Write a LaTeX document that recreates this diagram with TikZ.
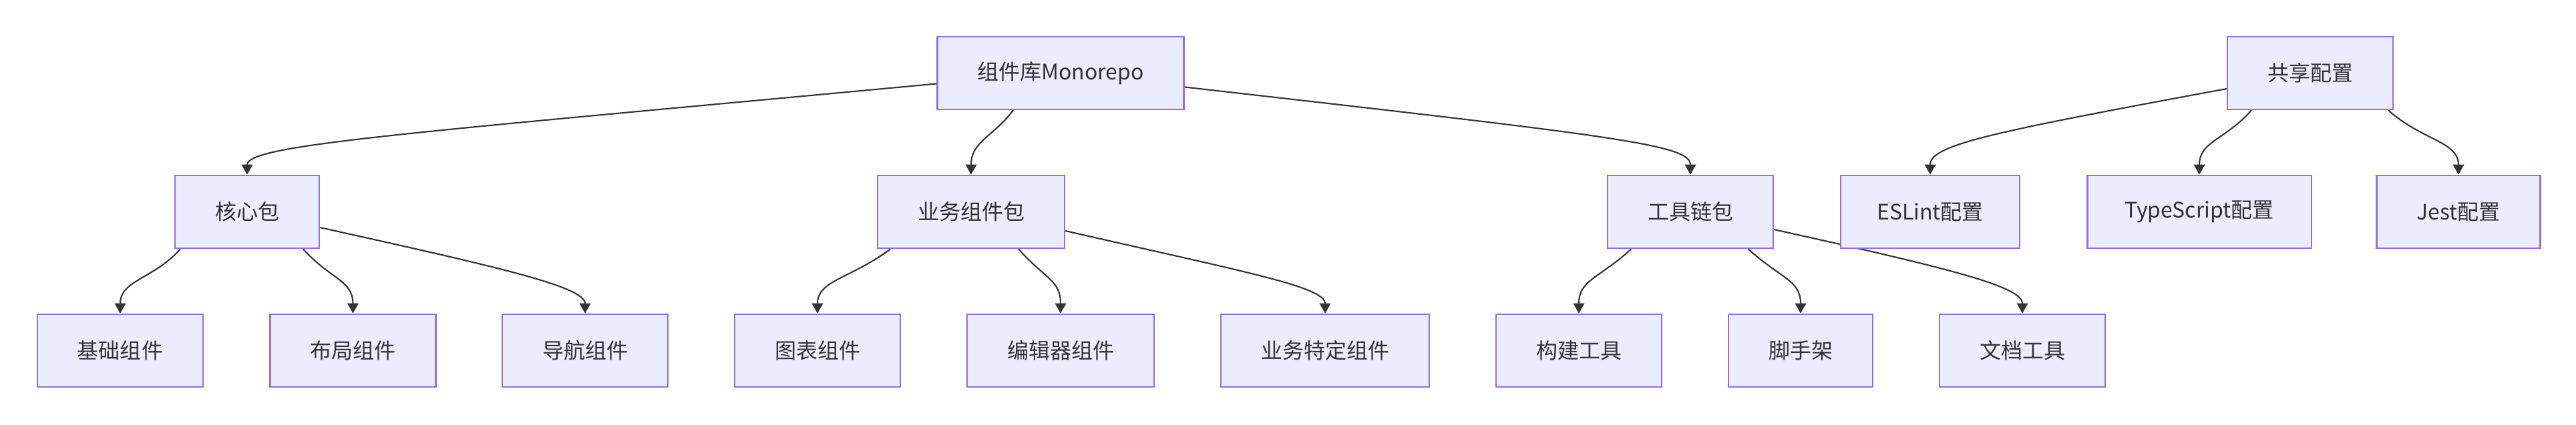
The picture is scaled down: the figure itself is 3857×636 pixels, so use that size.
\documentclass[tikz,border=0pt]{standalone}
\usepackage{fontspec}
\setmainfont{Noto Sans CJK SC}
\usetikzlibrary{calc,arrows.meta,backgrounds}
\definecolor{boxfill}{HTML}{ECECFF}
\definecolor{boxline}{HTML}{9370DB}
\definecolor{linkcol}{HTML}{333333}

\tikzset{
  pkg/.style={draw=boxline, fill=boxfill, line width=0.7pt, minimum height=1.09cm,
    inner xsep=0.6cm, text=linkcol, font=\fontsize{9.1pt}{11pt}\selectfont},
  link/.style={draw=linkcol, line width=0.6pt, -{Triangle[length=4.3pt,width=4.7pt]}}
}

\begin{document}
\begin{tikzpicture}[x=0.01cm, y=0.01cm]
  \useasboundingbox (0,0) rectangle (3857,636);

  % top row
  \node[pkg] (mono) at (1588,526.5) {组件库Monorepo};
  \node[pkg] (shared) at (3459,526.5) {共享配置};

  % packages
  \node[pkg] (core) at (370,318.5) {核心包};
  \node[pkg] (biz) at (1454,318.5) {业务组件包};
  \node[pkg] (tool) at (2531,318.5) {工具链包};
  \node[pkg, inner xsep=0.54cm] (eslint) at (2890,318.5) {ESLint配置};
  \node[pkg, inner xsep=0.56cm] (tsconf) at (3293,318.5) {TypeScript配置};
  \node[pkg] (jest) at (3681,318.5) {Jest配置};

  % leaves
  \node[pkg] (base) at (180,110.5) {基础组件};
  \node[pkg] (layout) at (528.5,110.5) {布局组件};
  \node[pkg] (nav) at (876,110.5) {导航组件};
  \node[pkg] (chart) at (1224,110.5) {图表组件};
  \node[pkg] (editor) at (1588,110.5) {编辑器组件};
  \node[pkg] (bizspec) at (1984,110.5) {业务特定组件};
  \node[pkg] (build) at (2364,110.5) {构建工具};
  \node[pkg] (scaffold) at (2696,110.5) {脚手架};
  \node[pkg] (docs) at (3028,110.5) {文档工具};

  % links, under the boxes
  \begin{scope}[on background layer]
    \draw[link] ($(mono.west)+(0,-16)$) .. controls +(-800,-75) and +(0,45) .. (core.north);
    \draw[link] ($(mono.south)+(-71,0)$) .. controls +(-30,-40) and +(0,50) .. (biz.north);
    \draw[link] ($(mono.east)+(0,-21)$) .. controls +(650,-74) and +(0,45) .. (tool.north);

    \draw[link] ($(shared.west)+(0,-23.5)$) .. controls +(-350,-65) and +(0,45) .. (eslint.north);
    \draw[link] ($(shared.south)+(-88,0)$) .. controls +(-40,-45) and +(0,50) .. (tsconf.north);
    \draw[link] ($(shared.south)+(117,0)$) .. controls +(50,-45) and +(0,50) .. (jest.north);

    \draw[link] ($(core.south)+(-100,0)$) .. controls +(-40,-45) and +(0,50) .. (base.north);
    \draw[link] ($(core.south)+(84,0)$) .. controls +(40,-45) and +(0,50) .. (layout.north);
    \draw[link] ($(core.east)+(0,-23.5)$) .. controls +(270,-60) and +(0,40) .. (nav.north);

    \draw[link] ($(biz.south)+(-121,0)$) .. controls +(-60,-45) and +(0,50) .. (chart.north);
    \draw[link] ($(biz.south)+(71,0)$) .. controls +(40,-45) and +(0,50) .. (editor.north);
    \draw[link] ($(biz.east)+(0,-28.5)$) .. controls +(270,-62) and +(0,40) .. (bizspec.north);

    \draw[link] ($(tool.south)+(-88.5,0)$) .. controls +(-50,-45) and +(0,50) .. (build.north);
    \draw[link] ($(tool.south)+(86.5,0)$) .. controls +(50,-45) and +(0,50) .. (scaffold.north);
    \draw[link] ($(tool.east)+(0,-26.5)$) .. controls +(270,-60) and +(0,40) .. (docs.north);
  \end{scope}
\end{tikzpicture}
\end{document}
